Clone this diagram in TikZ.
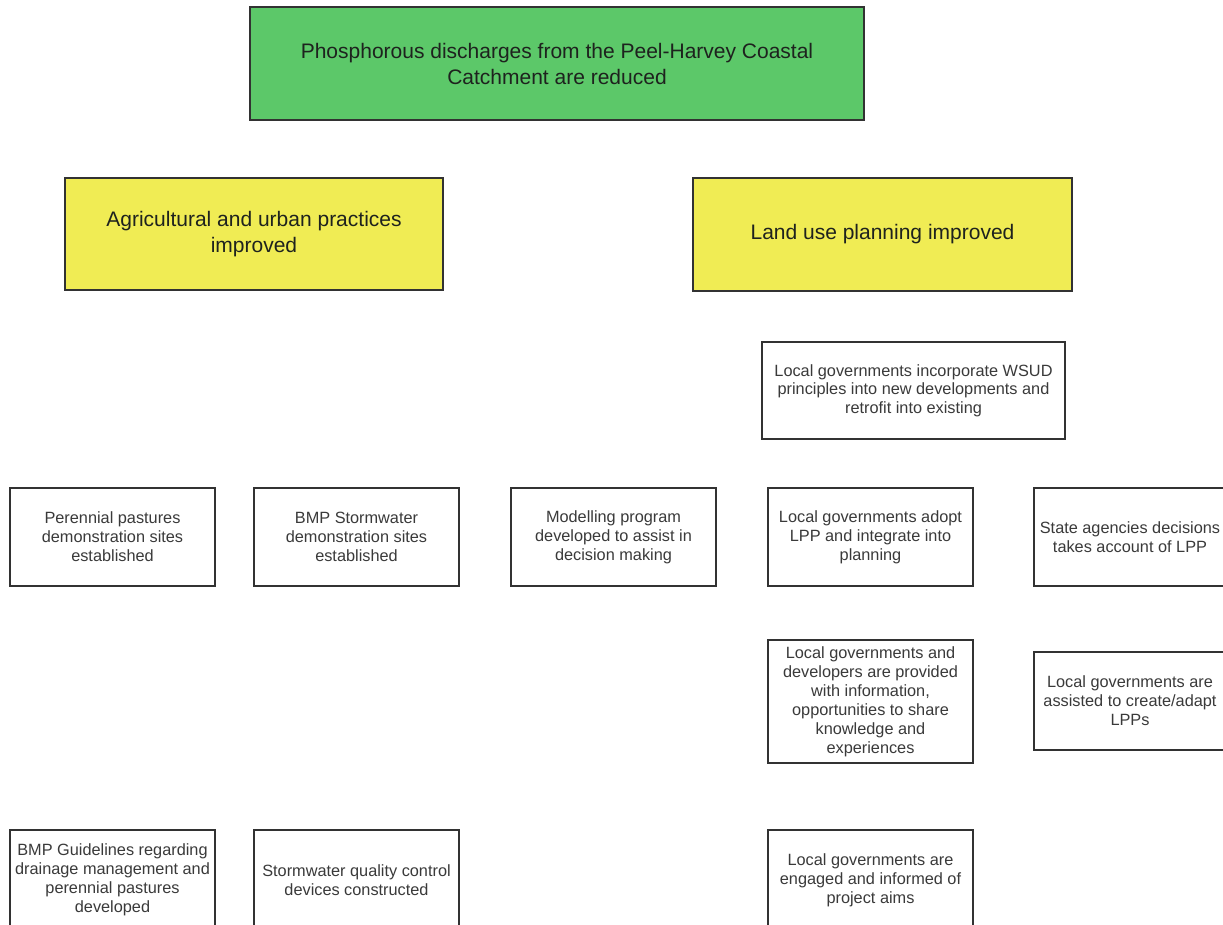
\documentclass[tikz,border=0pt]{standalone}
\usepackage{fontspec}
\setmainfont{Liberation Sans}
\definecolor{boxgreen}{RGB}{92,200,105}
\definecolor{boxyellow}{RGB}{240,236,84}
\definecolor{edgecol}{RGB}{50,50,50}
\definecolor{txtdark}{RGB}{30,34,30}
\definecolor{txtgray}{RGB}{58,58,58}
\begin{document}
\begin{tikzpicture}[x=1pt,y=-1pt,
  bigbox/.style={draw=edgecol, line width=1.8pt, align=center, inner sep=0pt,
    font=\fontsize{21}{26}\selectfont, text=txtdark},
  goalbox/.style={bigbox, fill=boxgreen},
  outbox/.style={bigbox, fill=boxyellow},
  actbox/.style={draw=edgecol, line width=1.6pt, fill=white, align=center, inner sep=0pt,
    font=\fontsize{16.3}{19}\selectfont, text=txtgray, minimum width=205pt},
  acttext/.style={align=center, inner sep=0pt,
    font=\fontsize{16.3}{19}\selectfont, text=txtgray}
]
\useasboundingbox (0,0) rectangle (1223,925);
\clip (0,0) rectangle (1223,925);
\fill[white] (0,0) rectangle (1223,925);

\node[goalbox, minimum width=614pt, minimum height=113pt] (goal) at (557,63.5)
  {Phosphorous discharges from the Peel-Harvey Coastal\\Catchment are reduced};

\node[outbox, minimum width=378pt, minimum height=112pt] (agri) at (254,234)
  {Agricultural and urban practices\\improved};
\node[outbox, minimum width=379pt, minimum height=113pt] (land) at (882.5,234.5)
  {Land use planning improved};

\node[actbox, minimum width=303pt, minimum height=97pt, font=\fontsize{16.3}{18.5}\selectfont] (wsud) at (913.5,390.5)
  {Local governments incorporate WSUD\\principles into new developments and\\retrofit into existing};

\node[actbox, minimum height=98pt] (peren) at (112.5,537)
  {Perennial pastures\\demonstration sites\\established};
\node[actbox, minimum height=98pt] (bmpsw) at (356.5,537)
  {BMP Stormwater\\demonstration sites\\established};
\node[actbox, minimum height=98pt] (model) at (613.5,537)
  {Modelling program\\developed to assist in\\decision making};
\node[actbox, minimum height=98pt] (adopt) at (870.5,537)
  {Local governments adopt\\LPP and integrate into\\planning};
\node[actbox, minimum width=212pt, minimum height=98pt] (state) at (1140,537) {};
\node[acttext] (statetext) at (1130,537)
  {State agencies decisions\\takes account of LPP};

\node[actbox, minimum height=123pt] (devel) at (870.5,701.5)
  {Local governments and\\developers are provided\\with information,\\opportunities to share\\knowledge and\\experiences};
\node[actbox, minimum width=212pt, minimum height=98pt] (assist) at (1140,701) {};
\node[acttext] (assisttext) at (1130,701)
  {Local governments are\\assisted to create/adapt\\LPPs};

\node[actbox, minimum height=100pt] (guide) at (112.5,880)
  {BMP Guidelines regarding\\drainage management and\\perennial pastures\\developed};
\node[actbox, minimum height=100pt] (storm) at (356.5,880)
  {Stormwater quality control\\devices constructed};
\node[actbox, minimum height=100pt] (engage) at (870.5,880)
  {Local governments are\\engaged and informed of\\project aims};
\end{tikzpicture}
\end{document}
